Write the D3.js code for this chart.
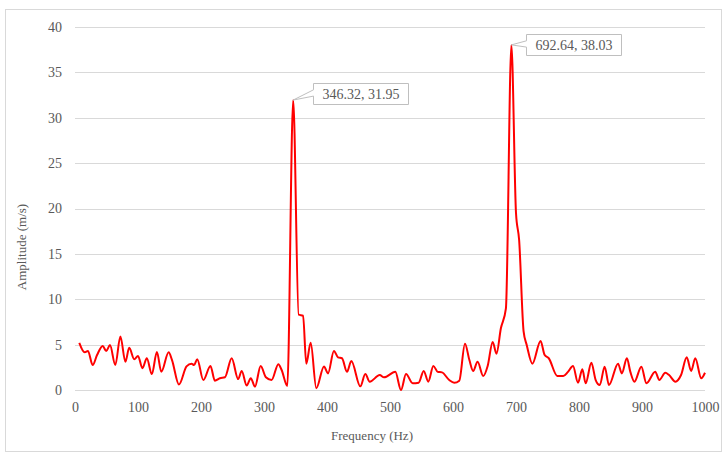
<!DOCTYPE html>
<html>
<head>
<meta charset="utf-8">
<script src="https://cdn.jsdelivr.net/npm/d3@7"></script>
<style>
  body { margin: 0; background: #fff; }
  text { font-family: "Liberation Serif", "DejaVu Serif", serif; fill: #595959; }
</style>
</head>
<body>
<div id="chart"></div>
<script>
/* global d3 */

// frequency (Hz) and amplitude (m/s)
const freq = [
  6.8, 15.4, 20.6, 28, 35, 44, 49.5, 55.5, 64, 72, 80, 86, 94, 100, 107, 114,
  122, 130, 137, 148.6, 154, 165, 177, 185, 189, 194, 203.7, 215, 222, 230,
  238, 248.7, 259, 264.6, 272.5, 279, 285.7, 294.7, 303, 312, 322.8, 328, 337,
  346.32, 355, 362, 367.1, 374.1, 383, 395.2, 401.6, 411, 417.5, 423.8, 431.7,
  438.6, 452.9, 460.8, 467.8, 483.7, 490.5, 508.4, 517.5, 525.4, 536, 545.5,
  553.5, 560.8, 568.8, 575.7, 582.5, 594, 602, 610, 619, 626, 632, 639, 648,
  655, 663, 669, 676, 684, 692.64, 700, 705, 712, 717, 726, 739, 745.5, 752,
  765.6, 775, 782.5, 790.5, 798.4, 805.3, 810.6, 819.6, 826.5, 833, 840.7,
  847.6, 862, 868, 876, 881.5, 888, 899, 907, 921, 927.5, 937, 943, 953, 962,
  971, 978, 984.6, 994, 1000
];
const amp = [
  5.2, 4.15, 4.3, 2.75, 3.85, 4.85, 4.3, 4.95, 2.75, 5.9, 3.1, 4.65, 3.4, 3.75, 2.4, 3.5,
  1.75, 4.2, 2.0, 4.15, 3.3, 0.6, 2.6, 2.9, 2.75, 3.4, 1.1, 2.65, 1.03, 1.3,
  1.4, 3.5, 1.2, 2.1, 0.5, 1.3, 0.37, 2.65, 1.4, 1.1, 2.85, 2.2, 0.45,
  31.95, 8.3, 8.2, 2.9, 5.2, 0.2, 2.6, 1.83, 4.3, 3.6, 3.5, 2.0,
  3.2, 0.4, 1.76, 0.92, 1.65, 1.4, 2.0, 0.0, 1.76, 0.74, 0.8,
  2.1, 0.92, 2.65, 2.0, 1.94, 1.1, 0.8, 1.03, 5.1, 3.3, 2.1, 3.1, 1.54,
  2.65, 5.3, 4.0, 6.8, 9.0, 38.03, 19.5, 16.5, 6.5, 4.96, 2.9, 5.4, 3.85, 3.5,
  1.54, 1.54, 2.0, 2.65, 0.8, 2.28, 0.74, 3.0, 1.1, 0.55, 2.57,
  0.55, 2.9, 1.83, 3.5, 2.0, 0.92, 2.57, 0.74, 2.0, 1.1, 1.9, 1.65, 0.92, 1.65,
  3.6, 2.1, 3.5, 1.3, 1.9
];

const xTicks = [0, 100, 200, 300, 400, 500, 600, 700, 800, 900, 1000];
const yTicks = [0, 5, 10, 15, 20, 25, 30, 35, 40];

// peak labels: [frequency, amplitude]
const peaks = [
  [346.32, 31.95],
  [692.64, 38.03]
];

const W = 725,
  H = 453;
const margin = { left: 75, right: 20, top: 27, bottom: 63 };

const svg = d3
  .select("#chart")
  .append("svg")
  .attr("width", W)
  .attr("height", H);

// chart area border
svg
  .append("rect")
  .attr("x", 5.5)
  .attr("y", 9.5)
  .attr("width", 716)
  .attr("height", 442)
  .attr("fill", "none")
  .attr("stroke", "#d9d9d9");

const x = d3.scaleLinear().domain([0, 1000]).range([margin.left, W - margin.right]);
const y = d3.scaleLinear().domain([0, 40]).range([H - margin.bottom, margin.top]);

// gridlines
svg
  .append("g")
  .selectAll("line")
  .data(yTicks)
  .enter()
  .append("line")
  .attr("x1", x(0))
  .attr("x2", x(1000))
  .attr("y1", (d) => Math.round(y(d)) + 0.5)
  .attr("y2", (d) => Math.round(y(d)) + 0.5)
  .attr("stroke", "#d9d9d9")
  .attr("stroke-width", 1);

// y axis labels
const yAxis = d3.axisLeft(y).tickValues(yTicks).tickSize(0).tickPadding(13);
svg
  .append("g")
  .attr("transform", `translate(${margin.left}, 0)`)
  .call(yAxis)
  .call((g) => g.select(".domain").remove())
  .selectAll("text")
  .style("font-size", "14px")
  .style("font-family", "Liberation Serif, serif")
  .attr("fill", "#595959");

// x axis labels
const xAxis = d3
  .axisBottom(x)
  .tickValues(xTicks)
  .tickFormat(d3.format("d"))
  .tickSize(0)
  .tickPadding(12);
svg
  .append("g")
  .attr("transform", `translate(0, ${y(0)})`)
  .call(xAxis)
  .call((g) => g.select(".domain").remove())
  .selectAll("text")
  .style("font-size", "14px")
  .style("font-family", "Liberation Serif, serif")
  .attr("fill", "#595959");

// axis titles
svg
  .append("text")
  .attr("transform", "rotate(-90)")
  .attr("x", -247)
  .attr("y", 26)
  .attr("text-anchor", "middle")
  .style("font-size", "13px")
  .text("Amplitude (m/s)");

svg
  .append("text")
  .attr("x", 372)
  .attr("y", 440)
  .attr("text-anchor", "middle")
  .style("font-size", "13px")
  .text("Frequency (Hz)");

// spectrum line
const line = d3
  .line()
  .x((d, i) => x(freq[i]))
  .y((d) => y(d))
  .curve(d3.curveMonotoneX);

svg
  .append("path")
  .datum(amp)
  .attr("d", line)
  .attr("fill", "none")
  .attr("stroke", "#ff0000")
  .attr("stroke-width", 2)
  .attr("stroke-linejoin", "round");

// callout labels
const boxW = 95,
  boxH = 21;
const boxOffsets = [
  [20, -17],
  [15, -11]
];
peaks.forEach((p, k) => {
  const px = x(p[0]),
    py = y(p[1]);
  const bx = Math.round(px + boxOffsets[k][0]) + 0.5,
    by = Math.round(py + boxOffsets[k][1]) + 0.5;
  const g = svg.append("g");
  // pointer wedge + box drawn as one outline
  const path = d3.path();
  path.moveTo(bx, by);
  path.lineTo(bx + boxW, by);
  path.lineTo(bx + boxW, by + boxH);
  path.lineTo(bx, by + boxH);
  path.lineTo(bx, by + boxH * 0.6);
  path.lineTo(px, py);
  path.lineTo(bx, by + boxH * 0.3);
  path.closePath();
  g.append("path")
    .attr("d", path.toString())
    .attr("fill", "#fff")
    .attr("stroke", "#bfbfbf");
  g.append("text")
    .attr("x", bx + boxW / 2)
    .attr("y", by + boxH / 2 + 5)
    .attr("text-anchor", "middle")
    .style("font-size", "14px")
    .text(p[0].toFixed(2) + ", " + p[1].toFixed(2));
});
</script>
</body>
</html>
